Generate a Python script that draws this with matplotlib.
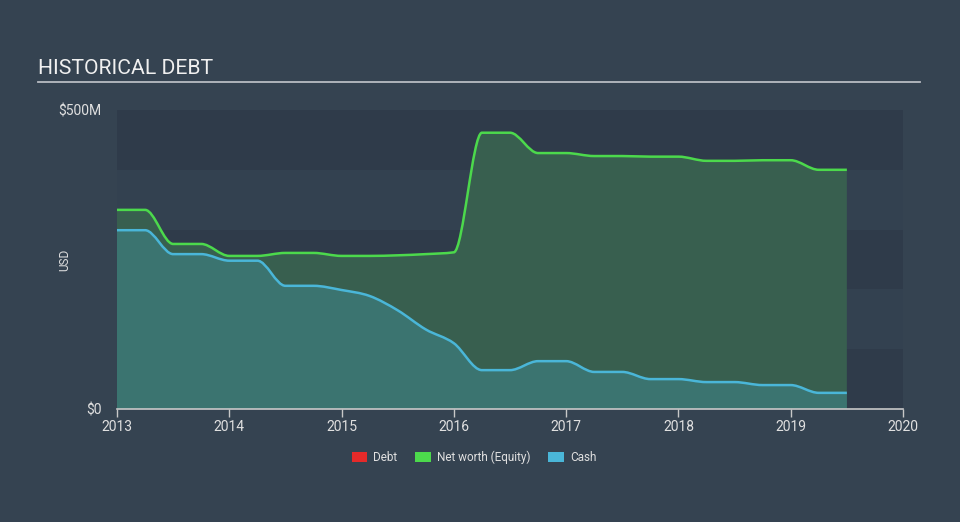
import numpy as np
import matplotlib
matplotlib.use("Agg")
import matplotlib.pyplot as plt
from matplotlib.path import Path
from matplotlib.patches import PathPatch, Patch
from matplotlib.lines import Line2D

plt.rcParams['font.family'] = ['Roboto', 'DejaVu Sans']

# quarterly dates (decimal years)
dates = [2013.0, 2013.25, 2013.5, 2013.75, 2014.0, 2014.25, 2014.5, 2014.75,
         2015.0, 2015.25, 2015.5, 2015.75, 2016.0, 2016.25, 2016.5, 2016.75,
         2017.0, 2017.25, 2017.5, 2017.75, 2018.0, 2018.25, 2018.5, 2018.75,
         2019.0, 2019.25, 2019.5]

# values in $M
net_worth = [333, 333, 276, 276, 256, 256, 261, 261,
             256, 256, 257, 259, 262, 462, 462, 428,
             428, 423, 423, 422, 422, 415, 415, 416,
             416, 400, 400]
cash = [299, 299, 259, 259, 248, 248, 206, 206,
        199, 189, 165, 133, 110, 65, 65, 80,
        80, 62, 62, 50, 50, 45, 45, 40,
        40, 27, 27]

year_ticks = [2013, 2014, 2015, 2016, 2017, 2018, 2019, 2020]

BG = '#354351'
GREEN = '#4cd94c'
BLUE = '#4ab6d8'
RED = '#e52a2a'


def monotone_path(x, y):
    """Bezier path in the style of d3.curveMonotoneX."""
    x = np.asarray(x, float)
    y = np.asarray(y, float)
    n = len(x)
    h = np.diff(x)
    s = np.diff(y) / h
    t = np.zeros(n)
    for i in range(1, n - 1):
        p = (s[i - 1] * h[i] + s[i] * h[i - 1]) / (h[i - 1] + h[i])
        t[i] = (np.sign(s[i - 1]) + np.sign(s[i])) * min(abs(s[i - 1]), abs(s[i]), 0.5 * abs(p))
    t[0] = (3 * s[0] - t[1]) / 2
    t[-1] = (3 * s[-1] - t[-2]) / 2
    verts = [(x[0], y[0])]
    codes = [Path.MOVETO]
    for i in range(n - 1):
        dx = h[i] / 3
        verts += [(x[i] + dx, y[i] + dx * t[i]),
                  (x[i + 1] - dx, y[i + 1] - dx * t[i + 1]),
                  (x[i + 1], y[i + 1])]
        codes += [Path.CURVE4] * 3
    return verts, codes


fig = plt.figure(figsize=(9.6, 5.22), dpi=100, facecolor=BG)
ax = fig.add_axes([117 / 960, 113 / 522, 786 / 960, 299 / 522])
ax.set_facecolor(BG)
ax.set_xlim(2013, 2020)
ax.set_ylim(0, 500)

# alternating bands
for k in range(5):
    ax.axhspan(k * 100, (k + 1) * 100, color='#2f3b4a' if k % 2 == 0 else '#334150', lw=0, zorder=0)

for vals, line_c, fill_c, z in [(net_worth, GREEN, '#385f4f', 2), (cash, BLUE, '#3b7470', 3)]:
    verts, codes = monotone_path(dates, vals)
    fverts = verts + [(dates[-1], 0), (dates[0], 0), verts[0]]
    fcodes = codes + [Path.LINETO, Path.LINETO, Path.CLOSEPOLY]
    ax.add_patch(PathPatch(Path(fverts, fcodes), facecolor=fill_c, edgecolor='none', zorder=z))
    ax.add_patch(PathPatch(Path(verts, codes), facecolor='none', edgecolor=line_c, lw=1.8, zorder=z + 2))

for side in ['top', 'right', 'left']:
    ax.spines[side].set_visible(False)
ax.spines['bottom'].set_color('#c8c8c8')
ax.spines['bottom'].set_linewidth(1.2)
ax.spines['bottom'].set_zorder(6)

ax.set_xticks(year_ticks)
ax.set_xticklabels([str(y) for y in year_ticks])
ax.tick_params(axis='x', colors='#c8c8c8', length=6, width=1, labelsize=10, labelcolor='#e0e0e0', pad=2)
ax.set_yticks([0, 500])
ax.set_yticklabels(['$0', '$500M'])
ax.tick_params(axis='y', length=0, labelsize=10, labelcolor='#e0e0e0', pad=11)
fig.text(65 / 960, 1 - 260 / 522, 'USD', rotation=90, color='#e0e0e0', fontsize=8.5,
         ha='center', va='center')

# title and rule
fig.text(38 / 960, 1 - 69 / 522, 'HISTORICAL DEBT', color='#f0f0f0', fontsize=15.2, va='center', ha='left')
fig.add_artist(Line2D([38 / 960, 920 / 960], [1 - 82 / 522, 1 - 82 / 522], color='#b8bcc2', lw=1.3))

handles = [Patch(facecolor=RED, label='Debt'),
           Patch(facecolor=GREEN, label='Net worth (Equity)'),
           Patch(facecolor=BLUE, label='Cash')]
leg = fig.legend(handles=handles, loc='center', bbox_to_anchor=(474 / 960, 1 - 457 / 522), ncol=3,
                 frameon=False, fontsize=8.5, handlelength=1.35, handleheight=0.9,
                 columnspacing=1.5, handletextpad=0.5)
for txt in leg.get_texts():
    txt.set_color('#e0e0e0')

fig.savefig('out.png', dpi=100, facecolor=BG)
